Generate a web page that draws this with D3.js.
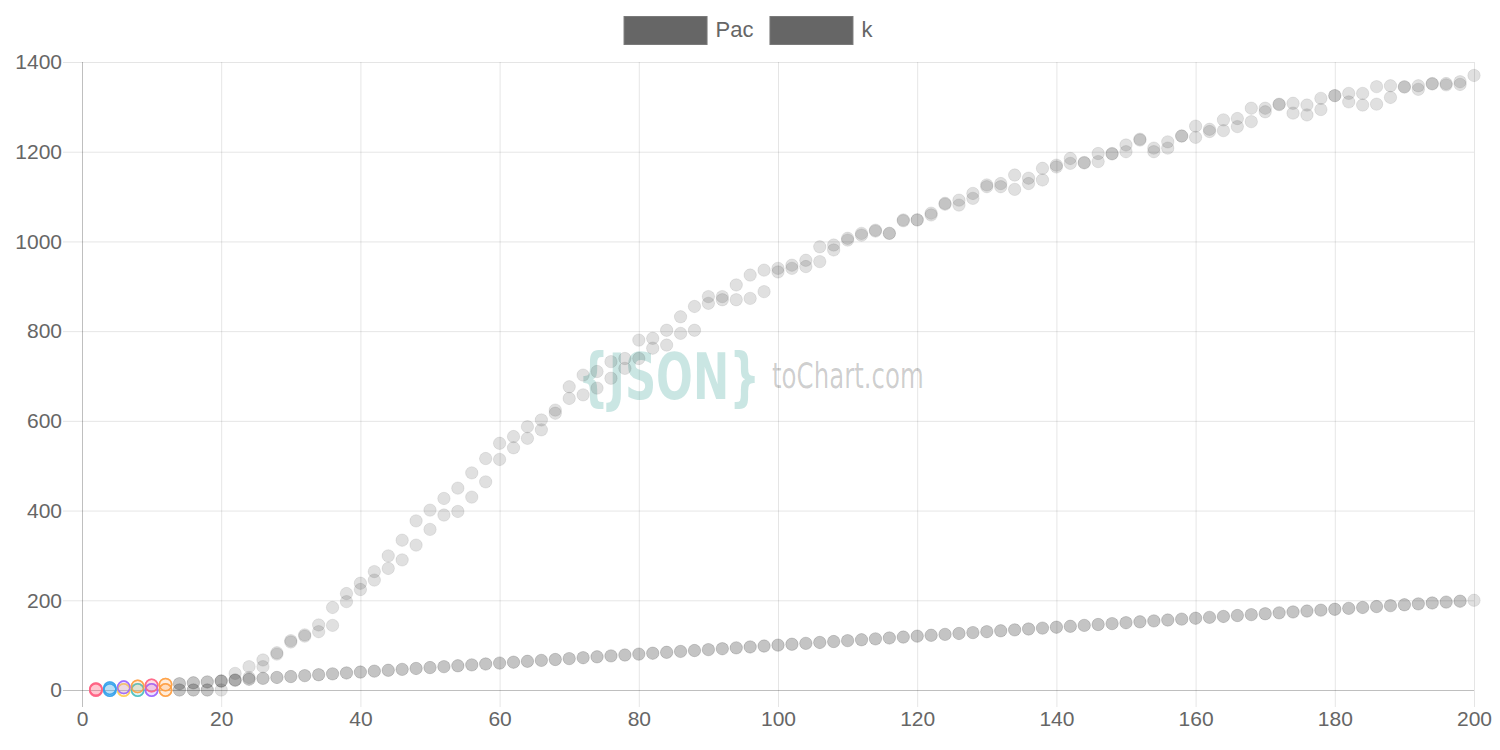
<!DOCTYPE html>
<html><head><meta charset="utf-8">
<script src="https://cdn.jsdelivr.net/npm/d3@7"></script>
<style>body{margin:0;background:#fff}svg{display:block}</style>
</head><body>
<svg id="c" width="1500" height="750"></svg>
<script>
const seriesNames = ["Pac", "k"];
const xValues = [2,4,6,8,10,12,14,16,18,20,22,24,26,28,30,32,34,36,38,40,42,44,46,48,50,52,54,56,58,60,62,64,66,68,70,72,74,76,78,80,82,84,86,88,90,92,94,96,98,100,102,104,106,108,110,112,114,116,118,120,122,124,126,128,130,132,134,136,138,140,142,144,146,148,150,152,154,156,158,160,162,164,166,168,170,172,174,176,178,180,182,184,186,188,190,192,194,196,198,200];
const pacHigh = [0,0,0,0,0,0,0,0,0,20,37,52,67,83,110,123,145,184,215,238,264,299,334,377,401,427,450,484,516,550,565,587,602,624,676,702,710,732,739,780,784,802,832,855,877,877,903,925,936,940,947,958,988,992,1007,1018,1025,1018,1048,1048,1063,1085,1092,1107,1126,1129,1148,1141,1163,1170,1185,1176,1196,1196,1215,1228,1208,1222,1235,1257,1250,1271,1274,1297,1297,1306,1308,1304,1319,1325,1330,1330,1345,1347,1345,1347,1352,1352,1356,1370];
const kHigh = [0,0,0,0,0,0,0,0,0,0,22,28,52,80,107,120,130,144,197,224,245,271,290,323,358,390,398,430,464,514,540,561,580,617,650,658,673,695,717,739,762,769,795,802,862,870,870,873,888,932,940,944,955,981,1003,1014,1023,1018,1046,1048,1059,1083,1081,1096,1122,1122,1116,1129,1137,1166,1174,1175,1178,1195,1200,1226,1200,1208,1235,1232,1245,1247,1256,1267,1289,1305,1286,1282,1294,1325,1311,1304,1306,1321,1344,1339,1351,1349,1350,null];
const pacLow = [2,4,6,8,10,12,14,16,18,20,22,24,26,28,30,32,34,36,38,40,42,44,46,48,50,52,54,56,58,60,62,64,66,68,70,72,74,76,78,80,82,84,86,88,90,92,94,96,98,100,102,104,106,108,110,112,114,116,118,120,122,124,126,128,130,132,134,136,138,140,142,144,146,148,150,152,154,156,158,160,162,164,166,168,170,172,174,176,178,180,182,184,186,188,190,192,194,196,198,200];
const kLow = [2,4,6,8,10,12,14,16,18,20,22,24,26,28,30,32,34,36,38,40,42,44,46,48,50,52,54,56,58,60,62,64,66,68,70,72,74,76,78,80,82,84,86,88,90,92,94,96,98,100,102,104,106,108,110,112,114,116,118,120,122,124,126,128,130,132,134,136,138,140,142,144,146,148,150,152,154,156,158,160,162,164,166,168,170,172,174,176,178,180,182,184,186,188,190,192,194,196,198,null];
const highColors = ["#ff6384","#36a2eb","#ffcd56","#4bc0c0","#9966ff","#ff9f40"];
const lowColors = ["#ff6384","#36a2eb","#9966ff","#ff9f40","#ff6384","#ff9f40"];
const xTicks = [0,20,40,60,80,100,120,140,160,180,200];
const yTicks = [0,200,400,600,800,1000,1200,1400];

const FONT = "'Liberation Sans', Arial, Helvetica, sans-serif";
const svg = d3.select("#c");
const L = 82, R = 1474, T = 62, B = 690;
const x = d3.scaleLinear().domain([0, 200]).range([L, R]);
const y = d3.scaleLinear().domain([0, 1400]).range([B, T]);

// grid + axes
const gx = svg.append("g").attr("transform", `translate(0,${B})`)
  .call(d3.axisBottom(x).tickValues(xTicks).tickSizeInner(-(B - T)).tickSizeOuter(0).tickPadding(21).tickFormat(d3.format("d")));
gx.select(".domain").remove();
gx.selectAll(".tick line").attr("y1", 17).attr("stroke", d => d === 0 ? "rgba(0,0,0,0.25)" : "rgba(0,0,0,0.1)").attr("stroke-width", 1);
gx.selectAll(".tick text").attr("fill", "#666").style("font", `21px ${FONT}`);

const gy = svg.append("g").attr("transform", `translate(${L},0)`)
  .call(d3.axisLeft(y).tickValues(yTicks).tickSizeInner(-(R - L)).tickSizeOuter(0).tickPadding(20).tickFormat(d3.format("d")));
gy.select(".domain").remove();
gy.selectAll(".tick line").attr("x1", -19).attr("stroke", d => d === 0 ? "rgba(0,0,0,0.25)" : "rgba(0,0,0,0.1)").attr("stroke-width", 1);
gy.selectAll(".tick text").attr("fill", "#666").style("font", `21px ${FONT}`);

// watermark (fit each word to its box by scaling)
const wm = svg.append("g");
function fitText(str, font, color, x0, base, w, h) {
  const g = wm.append("g");
  const t = g.append("text").style("font", font).attr("fill", color).text(str);
  const bb = t.node().getBBox();
  const sx = w / bb.width;
  g.attr("transform", `translate(${x0 - bb.x * sx},${base}) scale(${sx},${h})`);
}
fitText("{JSON}", "bold 43px 'DejaVu Sans', sans-serif", "rgba(42,157,143,0.25)", 578, 399, 182, 1.49);
fitText("toChart.com", "25px 'DejaVu Sans', sans-serif", "rgba(0,0,0,0.2)", 772, 388, 152, 1.4);

// points
function pts(vals, colors) {
  return xValues.map((xv, i) => ({ x: xv, y: vals[i], c: i < colors.length ? colors[i] : null }))
    .filter(d => d.y !== null);
}
const datasets = [
  { name: seriesNames[0], points: pts(pacHigh, highColors).concat(pts(pacLow, lowColors)) },
  { name: seriesNames[1], points: pts(kHigh, highColors).concat(pts(kLow, lowColors)) }
];
datasets.forEach(ds => {
  svg.append("g").selectAll("circle").data(ds.points).join("circle")
    .attr("cx", d => x(d.x)).attr("cy", d => y(d.y)).attr("r", 6.2)
    .attr("fill", d => d.c ? d3.color(d.c).copy({opacity: 0.1}) : "rgba(0,0,0,0.12)")
    .attr("stroke", d => d.c ? d3.color(d.c).copy({opacity: 0.75}) : "rgba(0,0,0,0.08)")
    .attr("stroke-width", d => d.c ? 1.5 : 1);
});

// legend
const lg = svg.append("g");
let cx = 0;
const items = [];
seriesNames.forEach(n => {
  const g = lg.append("g");
  g.append("rect").attr("x", 0.5).attr("y", 16.5).attr("width", 83).attr("height", 28)
    .attr("fill", "#666").attr("stroke", "#7a7a7a").attr("stroke-width", 1);
  const t = g.append("text").attr("x", 92).attr("y", 37).attr("fill", "#666").style("font", `22px ${FONT}`).text(n);
  const w = 92 + t.node().getComputedTextLength();
  items.push({ g, w });
});
const gap = 16;
const total = d3.sum(items, d => d.w) + gap * (items.length - 1);
cx = 748 - total / 2;
items.forEach(it => { it.g.attr("transform", `translate(${cx},0)`); cx += it.w + gap; });
</script>
</body></html>
